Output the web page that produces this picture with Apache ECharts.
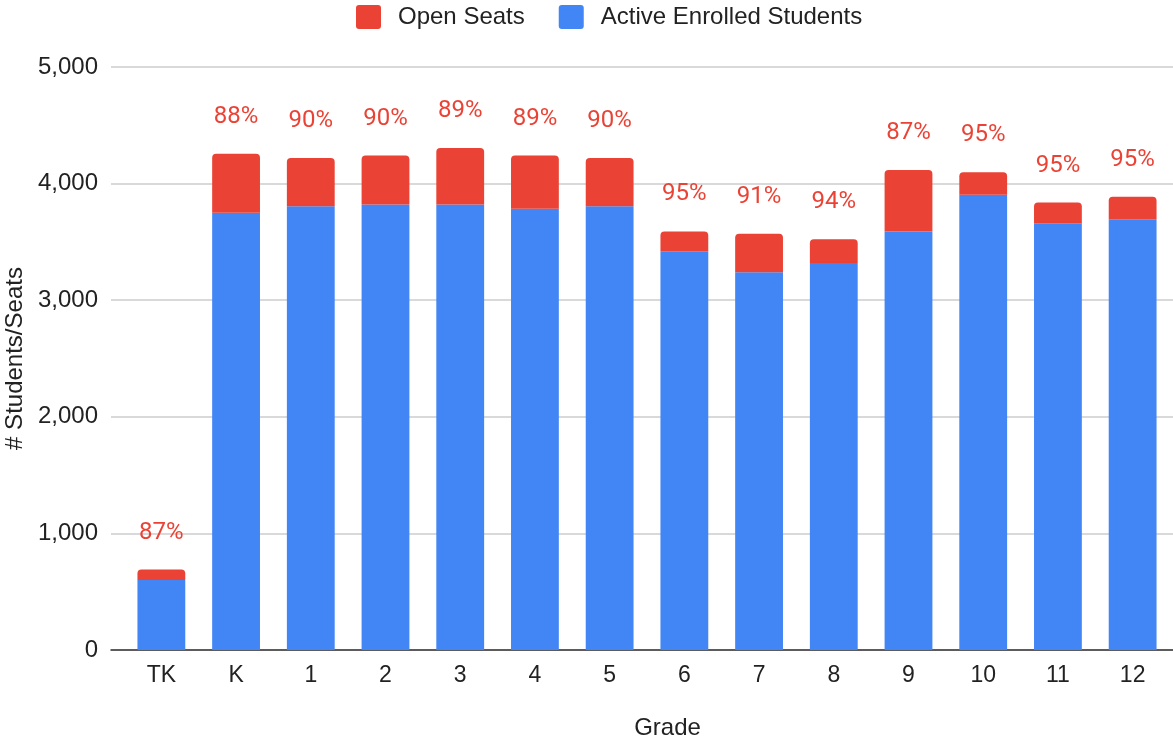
<!DOCTYPE html>
<html>
<head>
<meta charset="utf-8">
<title>Enrollment and Open Seats by Grade</title>
<script src="https://cdn.jsdelivr.net/npm/echarts@6/dist/echarts.min.js"></script>
<style>
  html, body { margin: 0; padding: 0; background: #fff; }
  #chart { width: 1173px; height: 738px; }
</style>
</head>
<body>
<div id="chart"></div>
<script>
// Grades along the x axis
const grades = ['TK', 'K', '1', '2', '3', '4', '5', '6', '7', '8', '9', '10', '11', '12'];
// Students currently enrolled in each grade
const enrolled = [600, 3750, 3805, 3820, 3820, 3785, 3805, 3420, 3240, 3320, 3590, 3905, 3660, 3695];
// Seats still available in each grade
const openSeats = [90, 505, 415, 420, 485, 455, 415, 170, 330, 202, 527, 192, 177, 193];
// Value axis ticks
const yTicks = [0, 1000, 2000, 3000, 4000, 5000];

const RED = '#EA4335';
const BLUE = '#4285F4';
const SANS = '"Liberation Sans", Arial, Helvetica, sans-serif';

const chart = echarts.init(document.getElementById('chart'), null, { renderer: 'canvas' });

// share of seats filled, shown above each stacked bar
function fillRate(i) {
  return Math.round(enrolled[i] / (enrolled[i] + openSeats[i]) * 100) + '%';
}

const yMin = yTicks[0];
const yMax = yTicks[yTicks.length - 1];
const yStep = yTicks[1] - yTicks[0];

chart.setOption({
  animation: false,
  backgroundColor: '#ffffff',
  legend: {
    data: ['Open Seats', 'Active Enrolled Students'],
    top: 0,
    left: 351,
    itemWidth: 25,
    itemHeight: 24,
    itemGap: 34,
    icon: 'path://M3,0 H22 Q25,0 25,3 V21 Q25,24 22,24 H3 Q0,24 0,21 V3 Q0,0 3,0 Z',
    textStyle: {
      fontFamily: SANS,
      fontSize: 24,
      color: '#222',
      padding: [0, 0, 0, 12]
    }
  },
  // bars sit in the first grid; the second, slightly wider one carries gridlines and the baseline
  grid: [
    { left: 124, right: 3, top: 67, bottom: 88, outerBoundsMode: 'none', containLabel: false },
    { left: 111, right: 0, top: 67, bottom: 88, outerBoundsMode: 'none', containLabel: false }
  ],
  xAxis: [
    {
      type: 'category',
      gridIndex: 0,
      data: grades,
      axisLine: { show: false },
      axisTick: { show: false },
      axisLabel: {
        fontFamily: SANS,
        fontSize: 23,
        color: '#222',
        margin: 14
      },
      name: 'Grade',
      nameLocation: 'middle',
      nameGap: 66,
      nameTextStyle: {
        fontFamily: SANS,
        fontSize: 24,
        color: '#222',
        padding: [0, 0, 0, 41]
      }
    },
    {
      type: 'value',
      gridIndex: 1,
      min: 0,
      max: 1,
      axisLine: { show: true, lineStyle: { color: '#333', width: 1.5 } },
      axisTick: { show: false },
      axisLabel: { show: false },
      splitLine: { show: false }
    }
  ],
  yAxis: [
    {
      type: 'value',
      gridIndex: 0,
      min: yMin,
      max: yMax,
      interval: yStep,
      show: false
    },
    {
      type: 'value',
      gridIndex: 1,
      min: yMin,
      max: yMax,
      interval: yStep,
      axisLine: { show: false },
      axisTick: { show: false },
      axisLabel: {
        fontFamily: SANS,
        fontSize: 24,
        color: '#222',
        margin: 13,
        formatter: v => v.toLocaleString('en-US')
      },
      splitLine: { lineStyle: { color: '#cccccc', width: 1.5 } },
      name: '# Students/Seats',
      nameLocation: 'middle',
      nameRotate: 90,
      nameGap: 72,
      nameTextStyle: {
        fontFamily: SANS,
        fontSize: 24,
        color: '#222'
      }
    }
  ],
  series: [
    {
      name: 'Active Enrolled Students',
      type: 'bar',
      xAxisIndex: 0,
      yAxisIndex: 0,
      stack: 'seats',
      barCategoryGap: '36%',
      data: enrolled,
      itemStyle: { color: BLUE }
    },
    {
      name: 'Open Seats',
      type: 'bar',
      xAxisIndex: 0,
      yAxisIndex: 0,
      stack: 'seats',
      barCategoryGap: '36%',
      data: openSeats,
      itemStyle: { color: RED, borderRadius: [4, 4, 0, 0] },
      label: {
        show: true,
        position: 'top',
        distance: 25,
        fontFamily: 'Roboto, "Liberation Sans", sans-serif',
        fontSize: 24,
        color: RED,
        formatter: p => fillRate(p.dataIndex)
      }
    }
  ]
});
</script>
</body>
</html>
